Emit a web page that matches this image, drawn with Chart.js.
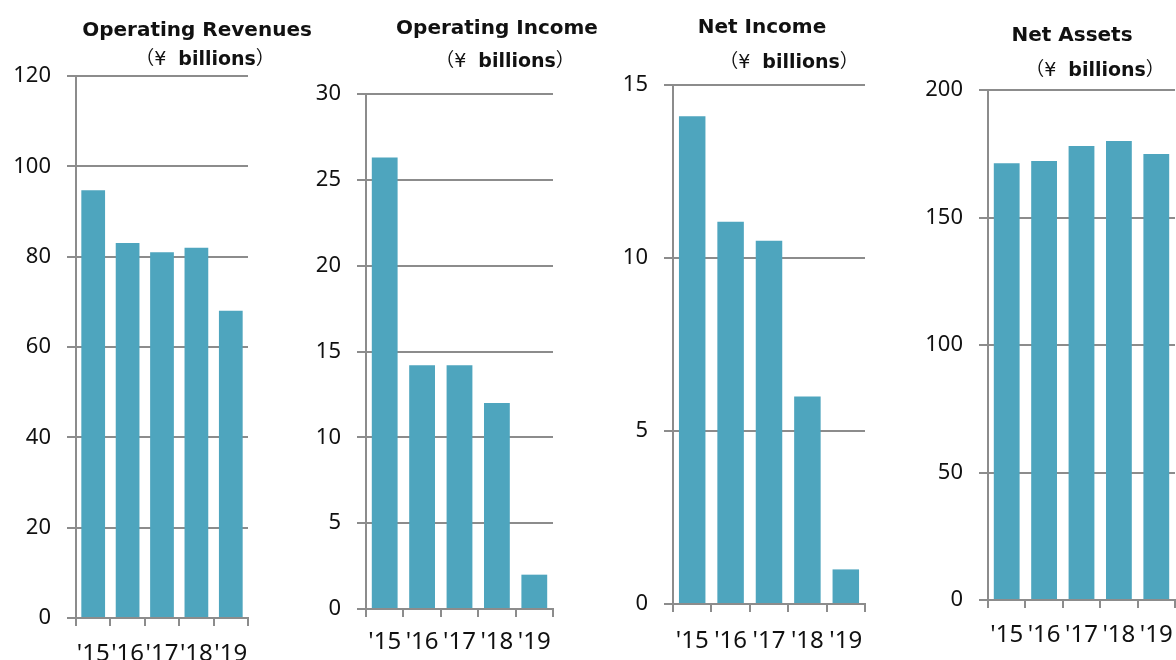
<!DOCTYPE html>
<html>
<head>
<meta charset="utf-8">
<script src="https://cdn.jsdelivr.net/npm/chart.js@4.4.0/dist/chart.umd.min.js"></script>
<style>
  body { margin:0; background:#fff; width:1176px; height:660px; position:relative; overflow:hidden; }
  canvas { position:absolute; top:0; }
  .ttl { position:absolute; white-space:pre; transform:translateX(-50%); font-family:"DejaVu Sans","Noto Sans CJK JP",sans-serif; color:#111; line-height:24px; }
  .ttl.main { font-weight:bold; font-size:20px; }
  .ttl.sub { font-size:19px; }
  .ttl.sub b { font-weight:bold; }
</style>
</head>
<body>
<canvas id="c1"></canvas>
<canvas id="c2"></canvas>
<canvas id="c3"></canvas>
<canvas id="c4"></canvas>

<div class="ttl main" style="left:197px;top:17px">Operating Revenues</div>
<div class="ttl sub"  style="left:205px;top:46px">（¥  <b>billions</b>）</div>
<div class="ttl main" style="left:497px;top:15px">Operating Income</div>
<div class="ttl sub"  style="left:505px;top:48px">（¥  <b>billions</b>）</div>
<div class="ttl main" style="left:762px;top:14px">Net Income</div>
<div class="ttl sub"  style="left:789px;top:49px">（¥  <b>billions</b>）</div>
<div class="ttl main" style="left:1072px;top:22px">Net Assets</div>
<div class="ttl sub"  style="left:1095px;top:57px">（¥  <b>billions</b>）</div>

<script>
// fiscal years shown under each panel
const years = ["'15", "'16", "'17", "'18", "'19"];

// values (¥ billions)
const revenues  = [94.7, 83.0, 81.0, 82.0, 68.0];
const opIncome  = [26.3, 14.2, 14.2, 12.0, 2.0];
const netIncome = [14.1, 11.05, 10.5, 6.0, 1.0];
const netAssets = [171.3, 172.2, 178.0, 180.0, 174.9];

// y axis ranges per panel: [min, max, step]
const revTicks = [0, 120, 20];
const opTicks  = [0, 30, 5];
const netTicks = [0, 15, 5];
const assetTicks = [0, 200, 50];

const barColor = '#4ea5be';
const lineColor = '#8c8c8c';
const H = 660;

// ---------- one panel ----------
// box: canvas left/width, plot area left/right/top/bottom in page pixels
function makePanel(id, values, ticks, box) {
  const cv = document.getElementById(id);
  cv.style.left = box.cx + 'px';
  cv.width = box.cw; cv.height = H;
  cv.style.width = box.cw + 'px'; cv.style.height = H + 'px';

  return new Chart(cv.getContext('2d'), {
    type: 'bar',
    data: {
      labels: years,
      datasets: [{ data: values, backgroundColor: barColor, borderWidth: 0,
                   barPercentage: 0.69, categoryPercentage: 1.0 }]
    },
    options: {
      responsive: false, animation: false,
      layout: { padding: { left: 0, top: box.top, right: box.cx + box.cw - box.right, bottom: 0 } },
      plugins: { legend: { display: false }, tooltip: { enabled: false } },
      scales: {
        x: {
          grid: { offset: true, drawOnChartArea: false, drawTicks: true, tickLength: 8, color: lineColor, lineWidth: 2 },
          border: { display: true, color: lineColor, width: 2 },
          ticks: { autoSkip: false, maxRotation: 0, minRotation: 0, padding: box.xpad, color: '#111',
                   font: { family: 'Noto Sans', size: 24 } },
          afterFit: s => { s.height = H - box.bottom; }
        },
        y: {
          min: ticks[0], max: ticks[1],
          grid: { color: lineColor, lineWidth: 2, drawTicks: true, tickLength: 9 },
          border: { display: true, color: lineColor, width: 2 },
          ticks: { stepSize: ticks[2], padding: 16, color: '#111',
                   font: { family: 'Noto Sans', size: 22 } },
          afterFit: s => { s.width = box.left - box.cx; }
        }
      }
    }
  });
}

makePanel('c1', revenues,  revTicks,   { cx: 0,   cw: 290, left: 76,  right: 248,  top: 76, bottom: 618, xpad: 14 });
makePanel('c2', opIncome,  opTicks,    { cx: 290, cw: 310, left: 366, right: 553,  top: 94, bottom: 609, xpad: 11 });
makePanel('c3', netIncome, netTicks,   { cx: 600, cw: 310, left: 673, right: 865,  top: 85, bottom: 604, xpad: 15 });
// last panel runs past the right edge of the page, as in the original
makePanel('c4', netAssets, assetTicks, { cx: 910, cw: 310, left: 988, right: 1175, top: 90, bottom: 600, xpad: 13 });
</script>
</body>
</html>
